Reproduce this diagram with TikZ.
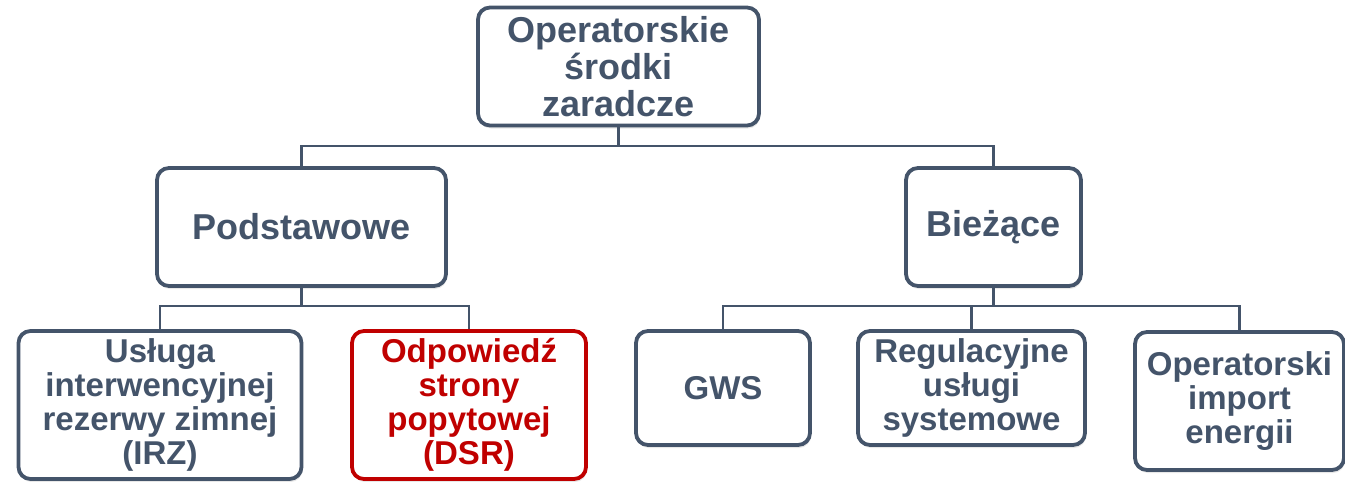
\documentclass[tikz,border=0pt]{standalone}
\usepackage{fontspec}
\setmainfont{Liberation Sans}
\usetikzlibrary{shadows}
\definecolor{slate}{HTML}{44546A}
\definecolor{dsrred}{HTML}{C00000}
\tikzset{
  box/.style={draw=slate, line width=3.8pt, rounded corners=12pt, fill=white,
    text=slate, font=\bfseries, align=center, inner sep=0pt,
    drop shadow={opacity=0.18, shadow xshift=1pt, shadow yshift=-3pt}},
  upper/.style={font=\fontsize{36}{37}\selectfont\bfseries},
  lower/.style={font=\fontsize{33}{34}\selectfont\bfseries},
  redbox/.style={draw=dsrred, text=dsrred},
  link/.style={draw=slate, line width=2.6pt}
}
\begin{document}
\begin{tikzpicture}[x=1pt,y=-1pt]
\useasboundingbox (0,0) rectangle (1345,482);

% top level
\node[box, upper, minimum width=281, minimum height=118] (root) at (618.5,66.5)
  {Operatorskie\\środki\\zaradcze};

% second level
\node[box, upper, minimum width=289, minimum height=118] (base) at (301.5,227) {Podstawowe};
\node[box, upper, minimum width=175, minimum height=118] (curr) at (993.5,227)
  {\raisebox{-2pt}{Bieżące}};

% third level, left branch
\node[box, lower, minimum width=283, minimum height=148] (irz) at (160,405)
  {Usługa\\interwencyjnej\\rezerwy zimnej\\(IRZ)};
\node[box, lower, redbox, minimum width=234, minimum height=148] (dsr) at (469,405)
  {Odpowiedź\\strony\\popytowej\\(DSR)};

% third level, right branch
\node[box, lower, minimum width=174, minimum height=114] (gws) at (723,388) {GWS};
\node[box, lower, minimum width=227, minimum height=114] (reg) at (971.5,388)
  {Regulacyjne\\usługi\\systemowe};
\node[box, lower, minimum width=209, minimum height=138] (imp) at (1239.5,401)
  {Operatorski\\import\\energii};

% junction points of the tree
\coordinate (j0) at (root.south |- 0,146);
\coordinate (j1) at (base.south |- 0,306);
\coordinate (j2) at (curr.south |- 0,306);

% connectors
\draw[link] (root.south) -- (j0);
\draw[link] (base.north) |- (j0) -| (curr.north);
\draw[link] (base.south) -- (j1);
\draw[link] (irz.north) |- (j1) -| (dsr.north);
\draw[link] (curr.south) -- (j2);
\draw[link] (gws.north) |- (j2) -| (imp.north);
\draw[link] (reg.north) -- (reg.north |- j2);
\end{tikzpicture}
\end{document}
